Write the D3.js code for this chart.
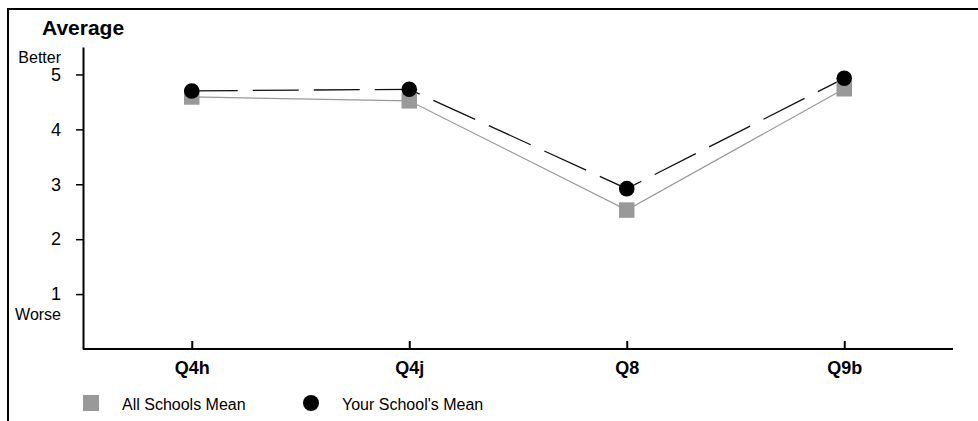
<!DOCTYPE html>
<html>
<head>
<meta charset="utf-8">
<script src="https://cdn.jsdelivr.net/npm/d3@7"></script>
<style>
  html, body { margin: 0; padding: 0; background: #fff; }
  svg { display: block; font-family: "Liberation Sans", Arial, sans-serif; }
</style>
</head>
<body>
<svg id="chart" width="978" height="421"></svg>
<script>
const categories = ["Q4h", "Q4j", "Q8", "Q9b"];
const allSchoolsMean = [4.59, 4.52, 2.53, 4.74];
const yourSchoolMean = [4.70, 4.73, 2.92, 4.93];
const yTicks = [1, 2, 3, 4, 5];
const titleText = "Average";
const seriesNames = ["All Schools Mean", "Your School's Mean"];

const svg = d3.select("#chart");

// frame (top and left edges only)
svg.append("path")
  .attr("d", "M8,421 L8,9 L978,9")
  .attr("fill", "none").attr("stroke", "#000").attr("stroke-width", 2);

const x = d3.scalePoint().domain(categories).range([83, 953]).padding(0.5);
const y = d3.scaleLinear().domain([0, 5.5]).range([349, 47]);

// title
svg.append("text").attr("x", 42).attr("y", 35)
  .attr("font-size", 21).attr("font-weight", "bold").text(titleText);

// y axis
const yAxis = d3.axisLeft(y).tickValues(yTicks).tickFormat(d3.format("d"))
  .tickSize(7).tickPadding(15).tickSizeOuter(0);
const gy = svg.append("g").attr("transform", "translate(83,0)").call(yAxis);
gy.select(".domain").attr("stroke", "#000").attr("stroke-width", 2);
gy.selectAll(".tick line").attr("stroke", "#000").attr("stroke-width", 1.5);
gy.selectAll(".tick text").attr("font-size", 18).attr("fill", "#000")
  .attr("font-family", "Liberation Sans, Arial, sans-serif");

svg.append("text").attr("x", 61).attr("y", 63).attr("text-anchor", "end")
  .attr("font-size", 16).text("Better");
svg.append("text").attr("x", 61).attr("y", 320).attr("text-anchor", "end")
  .attr("font-size", 16).text("Worse");

// x axis
const xAxis = d3.axisBottom(x).tickSize(-8).tickPadding(17).tickSizeOuter(0);
const gx = svg.append("g").attr("transform", "translate(0,349)").call(xAxis);
gx.select(".domain").attr("stroke", "#000").attr("stroke-width", 2)
  .attr("d", "M83,0H953");
gx.selectAll(".tick line").attr("stroke", "#000").attr("stroke-width", 2);
gx.selectAll(".tick text").attr("font-size", 18).attr("font-weight", "bold")
  .attr("fill", "#000").attr("font-family", "Liberation Sans, Arial, sans-serif")
  .attr("dy", "0.71em").attr("y", 12);

// lines
const line = d3.line().x((d, i) => x(categories[i])).y(d => y(d));
svg.append("path").datum(allSchoolsMean).attr("d", line)
  .attr("fill", "none").attr("stroke", "#999").attr("stroke-width", 1.2);
svg.append("path").datum(yourSchoolMean).attr("d", line)
  .attr("fill", "none").attr("stroke", "#111").attr("stroke-width", 1.3)
  .attr("stroke-dasharray", "46,15");

// markers
const sq = 15.5;
svg.selectAll("rect.all").data(allSchoolsMean).enter().append("rect")
  .attr("class", "all")
  .attr("x", (d, i) => x(categories[i]) - sq / 2)
  .attr("y", d => y(d) - sq / 2)
  .attr("width", sq).attr("height", sq).attr("fill", "#999");
svg.selectAll("circle.your").data(yourSchoolMean).enter().append("circle")
  .attr("class", "your")
  .attr("cx", (d, i) => x(categories[i]))
  .attr("cy", d => y(d))
  .attr("r", 7.8).attr("fill", "#000");

// legend
svg.append("rect").attr("x", 83).attr("y", 395).attr("width", 16).attr("height", 16).attr("fill", "#999");
svg.append("text").attr("x", 122).attr("y", 410).attr("font-size", 16).text(seriesNames[0]);
svg.append("circle").attr("cx", 311).attr("cy", 403).attr("r", 8).attr("fill", "#000");
svg.append("text").attr("x", 342).attr("y", 410).attr("font-size", 16).text(seriesNames[1]);
</script>
</body>
</html>
